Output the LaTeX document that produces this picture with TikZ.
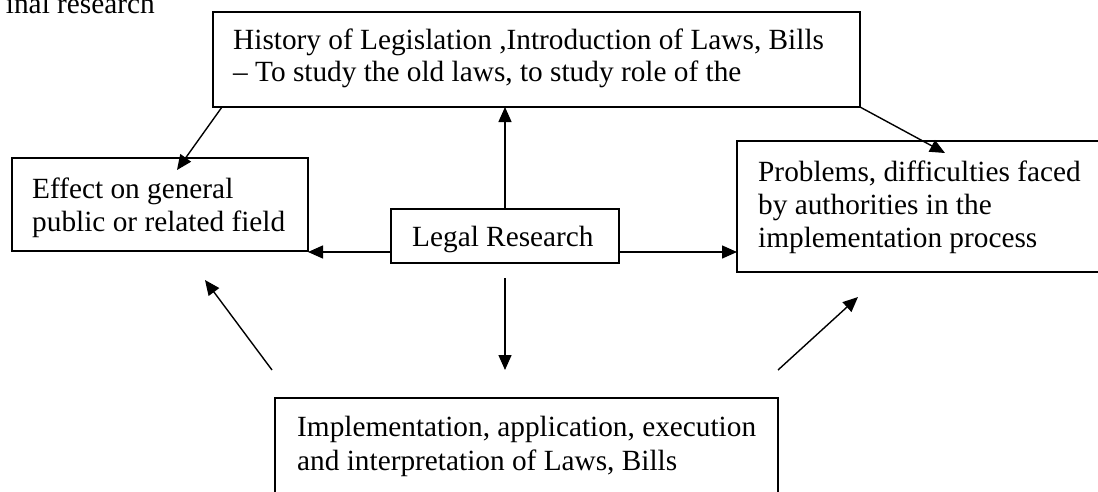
\documentclass[tikz,border=0pt]{standalone}
\usepackage{fontspec}
\setmainfont{Liberation Serif}
\usetikzlibrary{arrows.meta}
\begin{document}
\begin{tikzpicture}[x=1pt,y=-1pt,
  box/.style={draw, line width=1.6pt, inner sep=0pt, outer sep=0pt, anchor=north west},
  txt/.style={anchor=base west, inner sep=0pt, font=\fontsize{29.3}{34}\selectfont},
  arr/.style={line width=1.4pt, -{Triangle[length=15pt,width=13pt]}}]
\useasboundingbox (0,0) rectangle (1098,491);
% boxes
\node[box, minimum width=647pt, minimum height=95pt] (hist) at (213,12) {};
\node[box, minimum width=296pt, minimum height=93pt] (effect) at (12,158) {};
\node[box, minimum width=228pt, minimum height=54pt] (legal) at (391,209) {};
\node[box, minimum width=420pt, minimum height=131pt] (prob) at (737,141) {};
\node[box, minimum width=503pt, minimum height=130pt] (impl) at (275,398) {};
% texts
\node[txt, anchor=base east] (t0) at (155,13) {inal research};
\node[txt] (h1) at (233,49) {History of Legislation ,Introduction of Laws, Bills};
\node[txt] (h2) at (233,81) {– To study the old laws, to study role of the};
\node[txt] (e1) at (32,198) {Effect on general};
\node[txt] (e2) at (32,231) {public or related field};
\node[txt] (l1) at (412,246) {Legal Research};
\node[txt] (p1) at (758,181) {Problems, difficulties faced};
\node[txt] (p2) at (758,214) {by authorities in the};
\node[txt] (p3) at (758,247) {implementation process};
\node[txt] (i1) at (297,436) {Implementation, application, execution};
\node[txt] (i2) at (297,470) {and interpretation of Laws, Bills};
% connectors
\coordinate (ly) at (0,252);
\coordinate (dtail) at (505,278);
\coordinate (dtip) at (505,370);
\draw[arr] (legal.north) -- (legal.north |- hist.south);
\draw[arr] (legal.west |- ly) -- (effect.east |- ly);
\draw[arr] (legal.east |- ly) -- (prob.west |- ly);
\draw[arr] (dtail) -- (dtip);
\draw[arr] ([xshift=9pt]hist.south west) -- ([xshift=165pt,yshift=-12pt]effect.north west);
\draw[arr] (hist.south east) -- ([xshift=208pt,yshift=-12pt]prob.north west);
\draw[arr] ([xshift=-3pt,yshift=28pt]impl.north west) -- ([xshift=193pt,yshift=-29pt]effect.south west);
\draw[arr] ([yshift=28pt]impl.north east) -- ([xshift=121pt,yshift=-25pt]prob.south west);
\end{tikzpicture}
\end{document}
